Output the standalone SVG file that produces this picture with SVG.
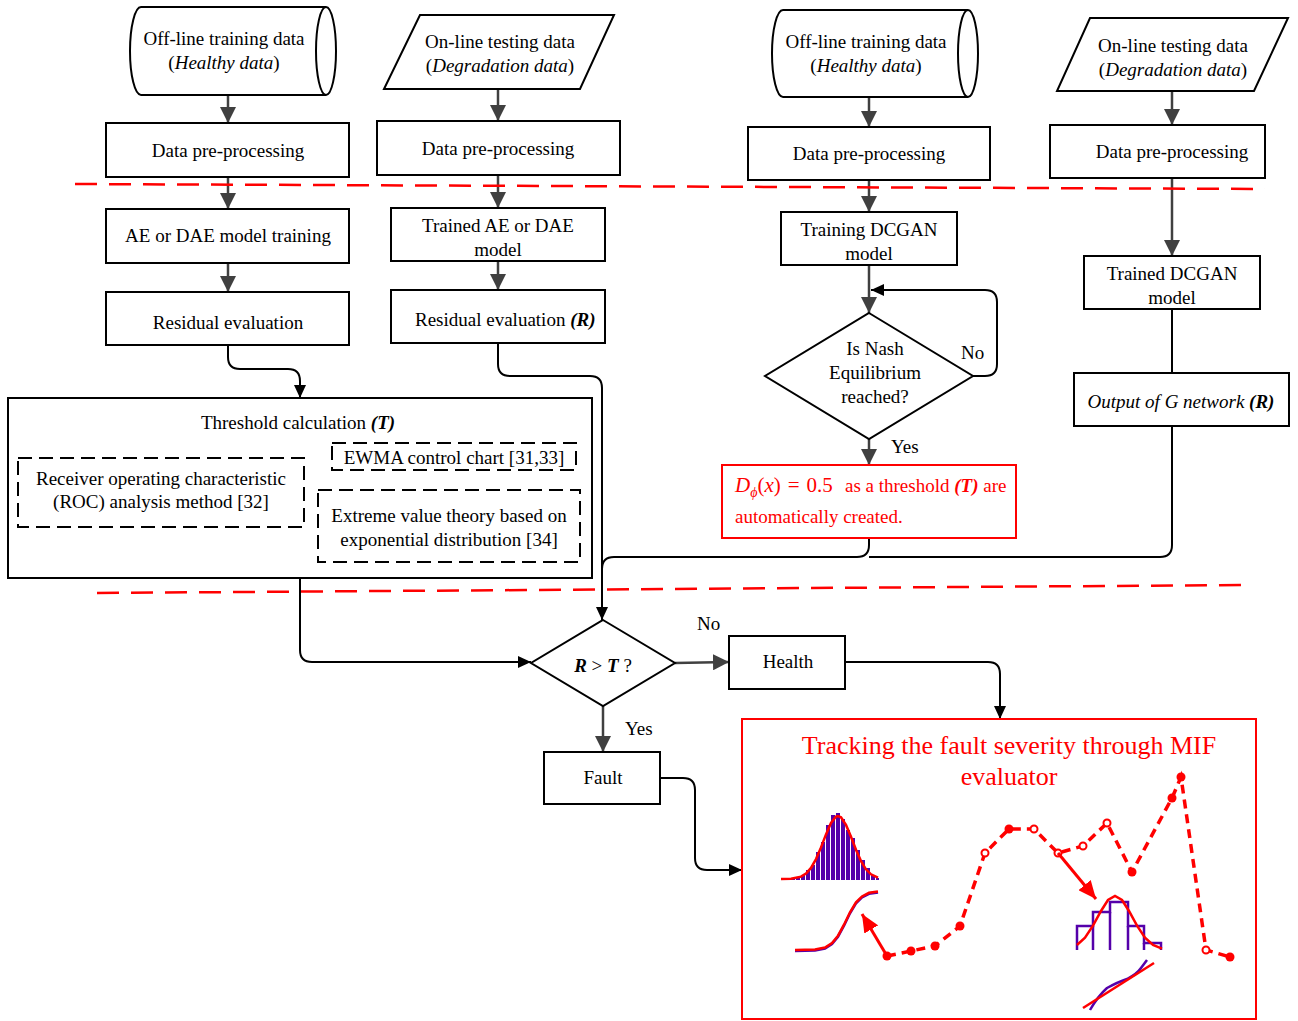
<svg xmlns="http://www.w3.org/2000/svg" width="1298" height="1021" viewBox="0 0 1298 1021">
<style>
text{font-family:"Liberation Serif","Times New Roman",serif;font-size:19px;fill:#000}
.c{text-anchor:middle}
.box{fill:#fff;stroke:#000;stroke-width:2}
.dash{fill:none;stroke:#000;stroke-width:2;stroke-dasharray:14 7}
.g{fill:none;stroke:#404040;stroke-width:2.5;marker-end:url(#ag)}
.k{fill:none;stroke:#000;stroke-width:2}
.ka{marker-end:url(#ak)}
.sep{fill:none;stroke:#f00;stroke-width:2.5;stroke-dasharray:22 12}
.rt{fill:#f00}
.big{font-size:26px}
.math{font-size:21px}
.sub{font-size:14px}
.i{font-style:italic}
.bi{font-style:italic;font-weight:bold}
.pbar{fill:#5500aa}
.pl{fill:none;stroke:#5500aa;stroke-width:2.5}
.rc{fill:none;stroke:#f00;stroke-width:2.5}
.trend{fill:none;stroke:#f00;stroke-width:3.5;stroke-dasharray:9 6}
.pf{fill:#f00}
.po{fill:#fff;stroke:#f00;stroke-width:2}
.ra{fill:none;stroke:#f00;stroke-width:3;marker-end:url(#ar)}
</style>
<defs>
<marker id="ag" viewBox="0 0 16 16" refX="16" refY="8" markerWidth="16" markerHeight="16" markerUnits="userSpaceOnUse" orient="auto"><path d="M0,0 L16,8 L0,16 z" fill="#404040"/></marker>
<marker id="ak" viewBox="0 0 13 12" refX="13" refY="6" markerWidth="13" markerHeight="12" markerUnits="userSpaceOnUse" orient="auto"><path d="M0,0 L13,6 L0,12 z" fill="#000"/></marker>
<marker id="ar" viewBox="0 0 18 16" refX="18" refY="8" markerWidth="18" markerHeight="16" markerUnits="userSpaceOnUse" orient="auto"><path d="M0,0 L18,8 L0,16 z" fill="#f00"/></marker>
</defs>

<!-- connectors -->
<g id="connectors">
  <!-- AE / DAE branch -->
  <path class="g" d="M228,95 L228,123"/>
  <path class="g" d="M228,177 L228,209"/>
  <path class="g" d="M228,263 L228,292"/>
  <path class="k ka" d="M228,345 L228,357 Q228,369 240,369 L288,369 Q300,369 300,381 L300,398"/>
  <path class="g" d="M498,89 L498,121"/>
  <path class="g" d="M498,175 L498,208"/>
  <path class="g" d="M498,261 L498,290"/>
  <path class="k ka" d="M498,343 L498,364 Q498,376 510,376 L590,376 Q602,376 602,388 L602,620"/>
  <path class="k ka" d="M300,578 L300,650 Q300,662 312,662 L531,662"/>
  <!-- DCGAN branch -->
  <path class="g" d="M869,97 L869,127"/>
  <path class="g" d="M869,180 L869,212"/>
  <path class="g" d="M869,265 L869,313"/>
  <path class="k ka" d="M973,376 L985,376 Q997,376 997,364 L997,302 Q997,290 985,290 L871,290"/>
  <path class="g" d="M869,439 L869,465"/>
  <path class="g" d="M1172,91 L1172,125"/>
  <path class="g" d="M1172,178 L1172,256"/>
  <path class="k" d="M1172,309 L1172,373"/>
  <path class="k" d="M869,538 L869,545 Q869,557 857,557 L614,557 Q602,557 602,569"/>
  <path class="k" d="M1172,426 L1172,545 Q1172,557 1160,557 L869,557"/>
  <!-- decision outputs -->
  <path class="g" d="M675,663 L729,662"/>
  <path class="g" d="M603,706 L603,752"/>
  <path class="k ka" d="M845,662 L988,662 Q1000,662 1000,674 L1000,719"/>
  <path class="k ka" d="M660,778 L683,778 Q695,778 695,790 L695,858 Q695,870 707,870 L742,870"/>
</g>

<!-- stage separators -->
<g id="separators">
  <path class="sep" d="M75,184 L1265,189"/>
  <path class="sep" d="M97,593 L1245,585"/>
</g>

<!-- AE / DAE column nodes -->
<g id="offline-data-1">
  <path class="box" d="M141,7 L326,7 A10,44 0 0 1 326,95 L141,95 A11,44 0 0 1 141,7 Z"/>
  <path class="k" d="M326,7 A10,44 0 0 0 326,95"/>
  <text class="c" x="224" y="45">Off-line training data</text>
  <text class="c" x="224" y="69">(<tspan class="i">Healthy data</tspan>)</text>
</g>
<g id="online-data-1">
  <polygon class="box" points="420,15 614,15 580,89 384,89"/>
  <text class="c" x="500" y="48">On-line testing data</text>
  <text class="c" x="500" y="72">(<tspan class="i">Degradation data</tspan>)</text>
</g>
<g id="preprocess-1">
  <rect class="box" x="106" y="123" width="243" height="54"/>
  <text class="c" x="228" y="157">Data pre-processing</text>
</g>
<g id="preprocess-2">
  <rect class="box" x="377" y="121" width="243" height="54"/>
  <text class="c" x="498" y="155">Data pre-processing</text>
</g>
<g id="ae-training">
  <rect class="box" x="106" y="209" width="243" height="54"/>
  <text class="c" x="228" y="242">AE or DAE model training</text>
</g>
<g id="ae-trained">
  <rect class="box" x="391" y="208" width="214" height="53"/>
  <text class="c" x="498" y="232">Trained AE or DAE</text>
  <text class="c" x="498" y="256">model</text>
</g>
<g id="residual-1">
  <rect class="box" x="106" y="292" width="243" height="53"/>
  <text class="c" x="228" y="329">Residual evaluation</text>
</g>
<g id="residual-2">
  <rect class="box" x="391" y="290" width="214" height="53"/>
  <text x="415" y="326">Residual evaluation <tspan class="bi">(R)</tspan></text>
</g>
<g id="threshold">
  <rect class="box" x="8" y="398" width="584" height="180"/>
  <text class="c" x="298" y="429">Threshold calculation <tspan class="bi">(T)</tspan></text>
  <rect class="dash" x="18" y="458" width="286" height="69"/>
  <text class="c" x="161" y="485">Receiver operating characteristic</text>
  <text class="c" x="161" y="508">(ROC) analysis method [32]</text>
  <rect class="dash" x="332" y="443" width="244" height="27"/>
  <text class="c" x="454" y="464">EWMA control chart [31,33]</text>
  <rect class="dash" x="318" y="490" width="262" height="72"/>
  <text class="c" x="449" y="522">Extreme value theory based on</text>
  <text class="c" x="449" y="546">exponential distribution [34]</text>
</g>

<!-- DCGAN column nodes -->
<g id="offline-data-2">
  <path class="box" d="M783,10 L968,10 A10,43.5 0 0 1 968,97 L783,97 A11,43.5 0 0 1 783,10 Z"/>
  <path class="k" d="M968,10 A10,43.5 0 0 0 968,97"/>
  <text class="c" x="866" y="48">Off-line training data</text>
  <text class="c" x="866" y="72">(<tspan class="i">Healthy data</tspan>)</text>
</g>
<g id="online-data-2">
  <polygon class="box" points="1090,18 1288,18 1254,91 1057,91"/>
  <text class="c" x="1173" y="52">On-line testing data</text>
  <text class="c" x="1173" y="76">(<tspan class="i">Degradation data</tspan>)</text>
</g>
<g id="preprocess-3">
  <rect class="box" x="748" y="127" width="242" height="53"/>
  <text class="c" x="869" y="160">Data pre-processing</text>
</g>
<g id="preprocess-4">
  <rect class="box" x="1050" y="125" width="215" height="53"/>
  <text class="c" x="1172" y="158">Data pre-processing</text>
</g>
<g id="dcgan-training">
  <rect class="box" x="781" y="212" width="176" height="53"/>
  <text class="c" x="869" y="236">Training DCGAN</text>
  <text class="c" x="869" y="260">model</text>
</g>
<g id="dcgan-trained">
  <rect class="box" x="1084" y="256" width="176" height="53"/>
  <text class="c" x="1172" y="280">Trained DCGAN</text>
  <text class="c" x="1172" y="304">model</text>
</g>
<g id="nash-check">
  <polygon class="box" points="869,313 973,376 869,439 765,376"/>
  <text class="c" x="875" y="355">Is Nash</text>
  <text class="c" x="875" y="379">Equilibrium</text>
  <text class="c" x="875" y="403">reached?</text>
  <text x="961" y="359">No</text>
  <text x="891" y="453">Yes</text>
</g>
<g id="dcgan-threshold">
  <rect x="722" y="465" width="294" height="73" fill="#fff" stroke="#f00" stroke-width="2"/>
  <text class="rt" x="735" y="492"><tspan class="math i">D</tspan><tspan class="i sub" dy="5">ϕ</tspan><tspan class="math" dy="-5">(</tspan><tspan class="math i">x</tspan><tspan class="math">)</tspan><tspan class="math" dx="7">=</tspan><tspan class="math" dx="7">0.5</tspan><tspan x="845">as a threshold </tspan><tspan class="bi">(T)</tspan> are</text>
  <text class="rt" x="735" y="523">automatically created.</text>
</g>
<g id="g-output">
  <rect class="box" x="1074" y="373" width="215" height="53"/>
  <text class="c" x="1181" y="408"><tspan class="i">Output of G network </tspan><tspan class="bi">(R)</tspan></text>
</g>

<!-- decision and results -->
<g id="decision">
  <polygon class="box" points="603,620 675,663 603,706 531,663"/>
  <text class="c" x="603" y="672"><tspan class="bi">R</tspan> &gt; <tspan class="bi">T</tspan> ?</text>
  <text x="697" y="630">No</text>
  <text x="625" y="735">Yes</text>
</g>
<g id="health">
  <rect class="box" x="729" y="636" width="116" height="53"/>
  <text class="c" x="788" y="668">Health</text>
</g>
<g id="fault">
  <rect class="box" x="544" y="752" width="116" height="52"/>
  <text class="c" x="603" y="784">Fault</text>
</g>

<!-- fault severity tracking panel -->
<g id="mif-evaluator">
  <rect x="742" y="719" width="514" height="300" fill="#fff" stroke="#f00" stroke-width="2"/>
  <text class="c rt big" x="1009" y="754">Tracking the fault severity through MIF</text>
  <text class="c rt big" x="1009" y="785">evaluator</text>

  <!-- histogram with fitted density -->
  <g>
    <rect class="pbar" x="781" y="879" width="4" height="1"/>
    <rect class="pbar" x="786" y="879" width="4" height="1"/>
    <rect class="pbar" x="791" y="878" width="4" height="2"/>
    <rect class="pbar" x="796" y="877" width="4" height="3"/>
    <rect class="pbar" x="801" y="875" width="4" height="5"/>
    <rect class="pbar" x="806" y="870" width="4" height="10"/>
    <rect class="pbar" x="811" y="865" width="4" height="15"/>
    <rect class="pbar" x="816" y="852" width="4" height="28"/>
    <rect class="pbar" x="821" y="842" width="4" height="38"/>
    <rect class="pbar" x="826" y="825" width="4" height="55"/>
    <rect class="pbar" x="831" y="815" width="4" height="65"/>
    <rect class="pbar" x="836" y="813" width="4" height="67"/>
    <rect class="pbar" x="841" y="819" width="4" height="61"/>
    <rect class="pbar" x="846" y="830" width="4" height="50"/>
    <rect class="pbar" x="851" y="838" width="4" height="42"/>
    <rect class="pbar" x="856" y="850" width="4" height="30"/>
    <rect class="pbar" x="861" y="860" width="4" height="20"/>
    <rect class="pbar" x="866" y="868" width="4" height="12"/>
    <rect class="pbar" x="871" y="875" width="4" height="5"/>
    <rect class="pbar" x="876" y="878" width="3" height="2"/>
    <path class="rc" d="M781,879 L791,878.7 L801,876.6 L806,873.5 L811,867.9 L816,859.1 L821,847.4 L826,834.4 L831,823 L836,816.6 L838,816 L841,817.3 L846,824.9 L851,836.8 L856,849.8 L861,861.1 L866,869.3 L871,874.3 L878,877.6"/>
  </g>
  <!-- cumulative curve -->
  <path class="pl" stroke-width="3" d="M795,951 L815,950.4 L825,948.6 L832,944 L838,936.7 L844,925.7 L850,913.3 L856,903.4 L862,897.4 L869,893.8 L878,892.4"/>
  <path class="rc" d="M795,950 L815,949.4 L825,947.6 L832,943 L838,935.7 L844,924.7 L850,912.3 L856,902.4 L862,896.4 L869,892.8 L878,891.4"/>

  <!-- severity trend -->
  <polyline class="trend" points="887,956 911,951 935,946 960,926 985,853 1009,829 1034,829 1058,853 1083,846 1107,823 1132,872 1172,798 1181,777 1206,950 1230,957"/>
  <circle class="pf" cx="887" cy="956" r="4.5"/>
  <circle class="pf" cx="911" cy="951" r="4.5"/>
  <circle class="pf" cx="935" cy="946" r="4.5"/>
  <circle class="pf" cx="960" cy="926" r="4.5"/>
  <circle class="po" cx="985" cy="853" r="3.5"/>
  <circle class="pf" cx="1009" cy="829" r="4.5"/>
  <circle class="po" cx="1034" cy="829" r="3.5"/>
  <circle class="po" cx="1058" cy="853" r="3.5"/>
  <circle class="po" cx="1083" cy="846" r="3.5"/>
  <circle class="po" cx="1107" cy="823" r="3.5"/>
  <circle class="pf" cx="1132" cy="872" r="4.5"/>
  <circle class="pf" cx="1172" cy="798" r="4.5"/>
  <circle class="pf" cx="1181" cy="777" r="4.5"/>
  <circle class="po" cx="1206" cy="950" r="3.5"/>
  <circle class="pf" cx="1230" cy="957" r="4.5"/>
  <path class="ra" d="M887,956 L862,914"/>
  <path class="ra" d="M1058,853 L1096,899"/>

  <!-- coarse histogram with fitted density -->
  <path class="pl" d="M1077,950 L1077,926 L1093,926 L1093,912 L1110,912 L1110,902 L1128,902 L1128,926 L1144,926 L1144,943 L1161,943 L1161,950"/>
  <path class="pl" stroke-width="3.5" d="M1093,950 L1093,926 M1110,950 L1110,912 M1128,950 L1128,926 M1144,950 L1144,943"/>
  <path class="rc" d="M1077,945 L1085,937.7 L1093,925.7 L1101,911 L1108,900 L1115,896 L1122,900 L1129,911 L1137,925.7 L1145,937.7 L1153,945 L1162,948.6"/>
  <!-- probability plot -->
  <path class="pl" stroke-width="3" d="M1090,1010 Q1098,996 1107,988 Q1118,982 1127,979 Q1137,974 1141,968 L1147,960"/>
  <path class="rc" d="M1083,1008 L1154,963"/>
</g>
</svg>
